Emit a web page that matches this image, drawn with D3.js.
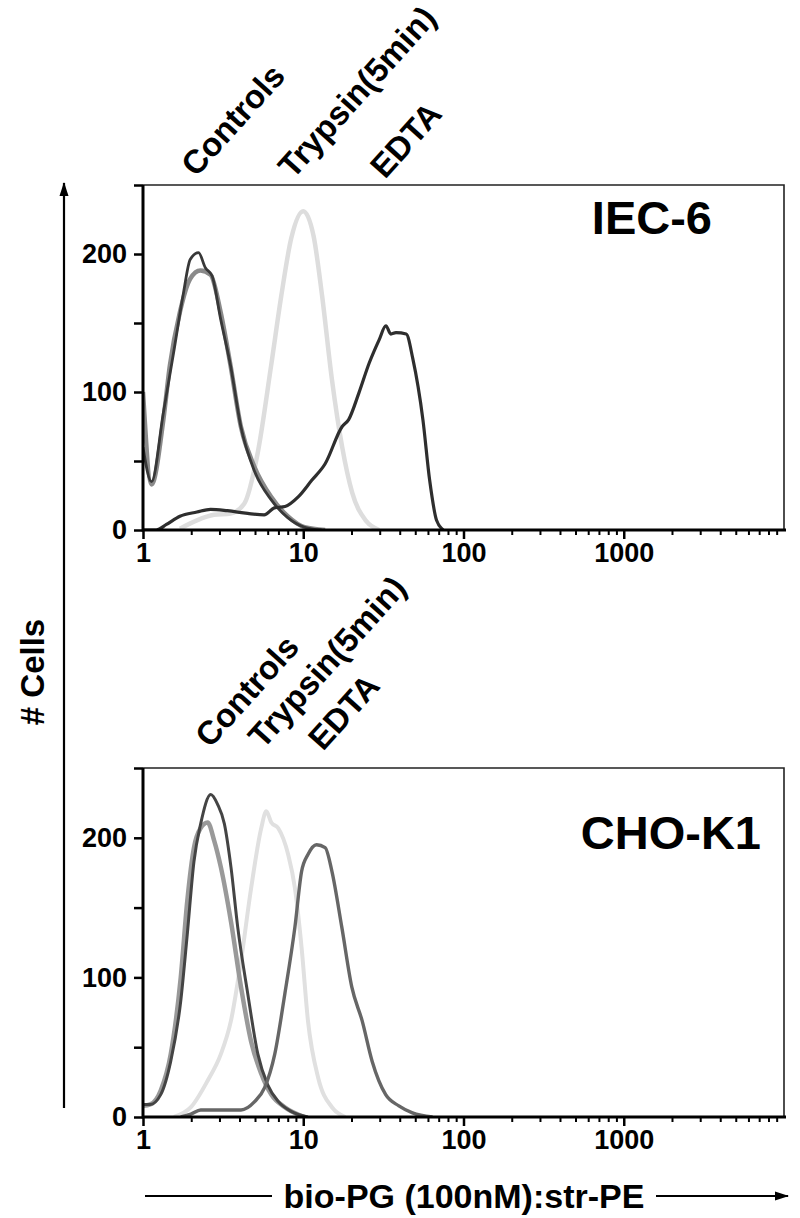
<!DOCTYPE html>
<html>
<head>
<meta charset="utf-8">
<script src="https://cdn.jsdelivr.net/npm/d3@7"></script>
<style>
  body { margin: 0; background: #fff; }
  text { font-family: "Liberation Sans", Arial, sans-serif; font-weight: bold; fill: #000; }
</style>
</head>
<body>
<div id="chart"></div>
<script>
// Flow cytometry histograms
const xMajorTicks = [1, 10, 100, 1000];
const yTicks = [0, 50, 100, 150, 200, 250];
const yLabelTicks = [0, 100, 200];
const curveLabels = ["Controls", "Trypsin(5min)", "EDTA"];
const panelTitles = ["IEC-6", "CHO-K1"];

// IEC-6
const iecCtrlA_x = [1.0, 1.13, 1.34, 1.55, 1.79, 1.97, 2.22, 2.45, 2.70, 3.05, 3.52, 4.08, 4.95, 6.3, 8.0, 10.2, 13];
const iecCtrlA_y = [60, 35, 85, 128, 172, 196, 201, 190, 184, 153, 119, 75, 43, 22, 9, 2, 0];
const iecCtrlB_x = [1.0, 1.13, 1.34, 1.47, 1.70, 1.97, 2.28, 2.64, 3.05, 3.52, 4.08, 4.95, 6.3, 8.0, 10.2, 13.7];
const iecCtrlB_y = [100, 33, 80, 119, 158, 182, 188, 185, 158, 119, 75, 46, 24, 10, 2, 0];
const iecTryp_x = [1.7, 2.17, 2.77, 3.52, 4.28, 5.2, 6.3, 7.3, 8.4, 10, 11.6, 13.1, 15.1, 17.5, 20.2, 24.5, 29.8];
const iecTryp_y = [1, 7, 11, 12, 19, 56, 119, 170, 211, 231, 213, 170, 109, 60, 27, 7, 0];
const iecEdta_x = [1.0, 1.21, 1.40, 1.70, 2.17, 2.64, 3.36, 4.5, 5.7, 6.6, 7.7, 9.3, 11.3, 13.7, 17.5, 19.2, 22.2, 25.8, 29.8, 32.8, 35.2, 37.9, 43.9, 48.3, 55.8, 61.5, 67.9, 74.8];
const iecEdta_y = [0, 0, 4, 10, 13, 15, 14, 12, 11, 16, 17, 24, 36, 48, 75, 80, 99, 121, 138, 148, 142, 143, 142, 124, 80, 36, 7, 0];

// CHO-K1
const choCtrlA_x = [1.0, 1.11, 1.29, 1.49, 1.72, 1.89, 2.08, 2.29, 2.65, 2.92, 3.22, 3.54, 3.90, 4.51, 5.21, 6.0, 7.0, 8.4, 10.7];
const choCtrlA_y = [9, 9, 16, 40, 83, 131, 183, 210, 231, 224, 210, 179, 136, 88, 45, 23, 11, 4, 0];
const choCtrlB_x = [1.0, 1.11, 1.29, 1.49, 1.72, 1.89, 2.08, 2.29, 2.53, 2.78, 3.06, 3.54, 4.09, 4.73, 5.47, 6.32, 7.67, 10.2];
const choCtrlB_y = [8, 9, 19, 45, 100, 155, 193, 207, 211, 198, 179, 140, 93, 54, 31, 16, 7, 0];
const choTryp_x = [1.56, 1.99, 2.53, 3.06, 3.54, 4.09, 4.73, 5.47, 5.88, 6.32, 6.97, 8.05, 8.87, 9.77, 10.7, 12.4, 15.1, 18.3];
const choTryp_y = [0, 7, 26, 45, 69, 112, 164, 207, 219, 211, 207, 188, 164, 121, 69, 28, 7, 0];
const choEdta_x = [1.72, 1.99, 2.29, 2.92, 4.09, 4.97, 5.74, 6.64, 7.67, 8.87, 9.77, 10.7, 12.1, 13.7, 15.1, 17.4, 20.1, 23.3, 26.9, 32.7, 39.5, 48.0, 64.1];
const choEdta_y = [0, 2, 5, 5, 5, 11, 21, 45, 88, 136, 176, 188, 195, 193, 176, 136, 93, 69, 40, 16, 8, 3, 0];

const zip = (xs, ys) => xs.map((v, i) => ({ x: v, y: ys[i] }));

const width = 800;
const height = 1218;
const left = 143, right = 784;

const panels = [
  {
    title: panelTitles[0], top: 185, bottom: 530, titleX: 712, titleY: 234,
    labelPos: [[196, 178], [293, 180], [385, 180]],
    series: [
      { pts: zip(iecTryp_x, iecTryp_y), color: "#dddddd", w: 4.5 },
      { pts: zip(iecCtrlB_x, iecCtrlB_y), color: "#8a8a8a", w: 4.5 },
      { pts: zip(iecCtrlA_x, iecCtrlA_y), color: "#383838", w: 2.8 },
      { pts: zip(iecEdta_x, iecEdta_y), color: "#2e2e2e", w: 3.2 }
    ]
  },
  {
    title: panelTitles[1], top: 768, bottom: 1117, titleX: 761, titleY: 849,
    labelPos: [[210, 749], [263, 750], [323, 752]],
    series: [
      { pts: zip(choTryp_x, choTryp_y), color: "#e0e0e0", w: 4 },
      { pts: zip(choCtrlB_x, choCtrlB_y), color: "#999999", w: 4.5 },
      { pts: zip(choCtrlA_x, choCtrlA_y), color: "#444444", w: 3 },
      { pts: zip(choEdta_x, choEdta_y), color: "#666666", w: 3.4 }
    ]
  }
];

const svg = d3.select("#chart").append("svg")
  .attr("width", width)
  .attr("height", height);

const x = d3.scaleLog().domain([1, 10000]).range([left, right]);

const minorTicks = [];
[1, 10, 100, 1000].forEach(dec => {
  for (let k = 2; k <= 9; k++) minorTicks.push(dec * k);
});

const fontFam = "'Liberation Sans', Arial, sans-serif";

panels.forEach((p, i) => {
  const y = d3.scaleLinear().domain([0, 250]).range([p.bottom, p.top]);

  svg.append("clipPath").attr("id", "clip" + i)
    .append("rect")
    .attr("x", left).attr("y", p.top)
    .attr("width", right - left).attr("height", p.bottom - p.top);

  const line = d3.line()
    .x(d => x(d.x))
    .y(d => y(d.y))
    .curve(d3.curveMonotoneX);

  const g = svg.append("g").attr("clip-path", `url(#clip${i})`);
  p.series.forEach(s => {
    g.append("path")
      .datum(s.pts)
      .attr("d", line)
      .attr("fill", "none")
      .attr("stroke", s.color)
      .attr("stroke-width", s.w)
      .attr("stroke-linejoin", "round");
  });

  // frame top + right
  svg.append("path")
    .attr("d", `M${left},${p.top}H${right}V${p.bottom}`)
    .attr("fill", "none")
    .attr("stroke", "#222")
    .attr("stroke-width", 1.6);

  // x axis: minor then major ticks
  svg.append("g")
    .attr("transform", `translate(0,${p.bottom})`)
    .call(d3.axisBottom(x).tickValues(minorTicks).tickFormat("").tickSize(5).tickSizeOuter(0))
    .call(a => a.select(".domain").remove())
    .selectAll("line").attr("stroke-width", 2);

  const xa = svg.append("g")
    .attr("transform", `translate(0,${p.bottom})`)
    .call(d3.axisBottom(x).tickValues(xMajorTicks).tickFormat(d3.format("d")).tickSize(9).tickSizeOuter(0));
  xa.select(".domain").remove();
  xa.selectAll("line").attr("stroke-width", 2.5);
  xa.selectAll("text")
    .attr("y", 13)
    .style("font-size", "27px")
    .style("font-family", fontFam)
    .style("font-weight", "bold");

  const ya = svg.append("g")
    .attr("transform", `translate(${left},0)`)
    .call(d3.axisLeft(y).tickValues(yTicks)
      .tickFormat(d => yLabelTicks.includes(d) ? d : "")
      .tickSize(9).tickSizeOuter(0));
  ya.select(".domain").remove();
  ya.selectAll("line").attr("stroke-width", 2.5);
  ya.selectAll("text")
    .attr("x", -16)
    .style("font-size", "27px")
    .style("font-family", fontFam)
    .style("font-weight", "bold");

  // thick left / bottom axis lines
  svg.append("path")
    .attr("d", `M${left},${p.top}V${p.bottom}H${right + 2}`)
    .attr("fill", "none")
    .attr("stroke", "#000")
    .attr("stroke-width", 3);

  svg.append("text")
    .attr("x", p.titleX).attr("y", p.titleY)
    .attr("text-anchor", "end")
    .style("font-size", "47px")
    .text(p.title);

  curveLabels.forEach((t, j) => {
    svg.append("text")
      .attr("transform", `translate(${p.labelPos[j][0]},${p.labelPos[j][1]}) rotate(-48)`)
      .style("font-size", "33px")
      .text(t);
  });
});

// arrows
const defs = svg.append("defs");
defs.append("marker")
  .attr("id", "arrow")
  .attr("viewBox", "0 0 14 12")
  .attr("refX", 13).attr("refY", 6)
  .attr("markerWidth", 14).attr("markerHeight", 12)
  .attr("markerUnits", "userSpaceOnUse")
  .attr("orient", "auto")
  .append("path")
  .attr("d", "M0,1.5L14,6L0,10.5Z")
  .attr("fill", "#000");

svg.append("line")
  .attr("x1", 64).attr("y1", 1108).attr("x2", 64).attr("y2", 183)
  .attr("stroke", "#000").attr("stroke-width", 2.2)
  .attr("marker-end", "url(#arrow)");

svg.append("text")
  .attr("transform", "translate(44,672) rotate(-90)")
  .attr("text-anchor", "middle")
  .style("font-size", "33px")
  .text("# Cells");

const xLabel = "bio-PG (100nM):str-PE";
svg.append("text")
  .attr("x", 464).attr("y", 1196).attr("dy", "0.35em")
  .attr("text-anchor", "middle")
  .style("font-size", "34px")
  .text(xLabel);

svg.append("line")
  .attr("x1", 145).attr("y1", 1196).attr("x2", 272).attr("y2", 1196)
  .attr("stroke", "#000").attr("stroke-width", 2.2);

svg.append("line")
  .attr("x1", 656).attr("y1", 1196).attr("x2", 788).attr("y2", 1196)
  .attr("stroke", "#000").attr("stroke-width", 2.2)
  .attr("marker-end", "url(#arrow)");
</script>
</body>
</html>
